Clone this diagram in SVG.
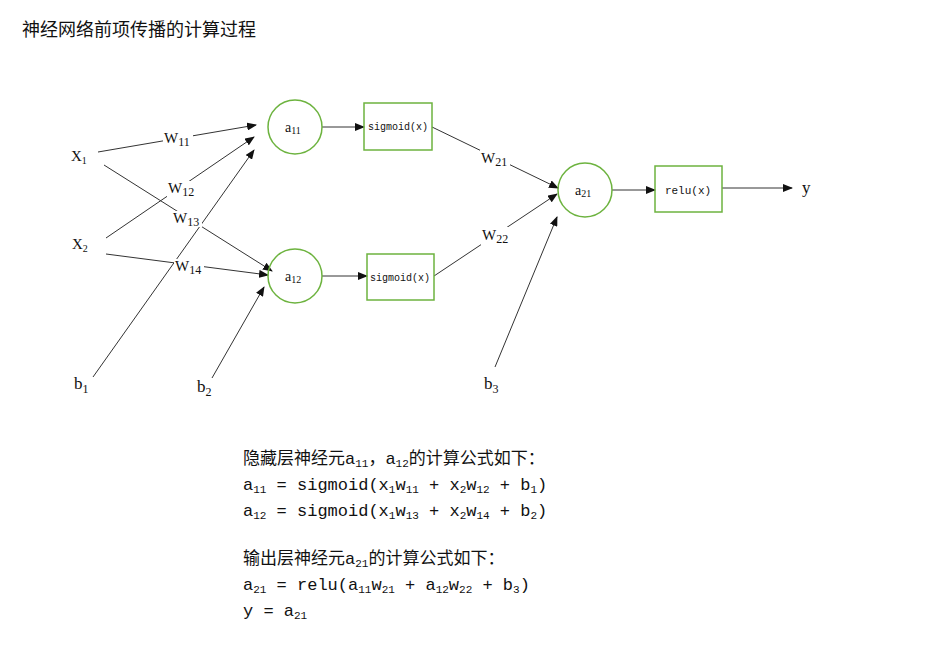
<svg xmlns="http://www.w3.org/2000/svg" width="928" height="652" viewBox="0 0 928 652">
<style>
text{font-family:"Liberation Serif","Noto Serif CJK SC","Noto Sans CJK SC",serif;fill:#111}
.m text{font-family:"Liberation Mono","Noto Sans CJK SC",monospace;font-size:17px}
.n{fill:none;stroke:#6db33f;stroke-width:1.5}
.c line{stroke:#333;stroke-width:1;marker-end:url(#a)}
.l{font-size:15px}
</style>
<defs><marker id="a" markerWidth="10" markerHeight="8" refX="9" refY="4" orient="auto" markerUnits="userSpaceOnUse"><path d="M0,0L10,4L0,8z" fill="#111"/></marker></defs>
<rect width="928" height="652" fill="#fff"/>
<text x="22" y="36" style="font-family:'Noto Sans CJK SC',sans-serif;font-size:18px">神经网络前项传播的计算过程</text>
<g class="c">
<line x1="98" y1="152" x2="256" y2="125"/>
<line x1="106" y1="238" x2="254" y2="137"/>
<line x1="93" y1="377" x2="254" y2="150"/>
<line x1="104" y1="165" x2="272" y2="271"/>
<line x1="106" y1="254" x2="268" y2="275"/>
<line x1="212" y1="378" x2="264" y2="287"/>
<line x1="322" y1="127" x2="364" y2="127"/>
<line x1="322" y1="276" x2="367" y2="276"/>
<line x1="432" y1="127" x2="558" y2="188"/>
<line x1="434" y1="276" x2="557" y2="194"/>
<line x1="495" y1="367" x2="557" y2="217"/>
<line x1="612" y1="190" x2="655" y2="190"/>
<line x1="722" y1="188" x2="792" y2="188"/>
</g>
<g id="x1"><text x="71" y="161" class="l">X<tspan font-size="10" dy="3">1</tspan></text></g>
<g id="x2"><text x="72" y="249" class="l">X<tspan font-size="10" dy="3">2</tspan></text></g>
<g id="b1"><text x="74" y="389" font-size="17">b<tspan font-size="12" dy="4">1</tspan></text></g>
<g id="b2"><text x="197" y="392" font-size="17">b<tspan font-size="12" dy="4">2</tspan></text></g>
<g id="b3"><text x="484" y="389" font-size="17">b<tspan font-size="12" dy="4">3</tspan></text></g>
<g id="wl">
<rect x="163" y="131" width="30" height="16" fill="#fff"/><text x="164" y="143" class="l">W<tspan font-size="12" dy="3">11</tspan></text>
<rect x="167" y="181" width="30" height="16" fill="#fff"/><text x="168" y="193" class="l">W<tspan font-size="12" dy="3">12</tspan></text>
<rect x="172" y="211" width="30" height="16" fill="#fff"/><text x="173" y="223" class="l">W<tspan font-size="12" dy="3">13</tspan></text>
<rect x="174" y="259" width="30" height="16" fill="#fff"/><text x="175" y="271" class="l">W<tspan font-size="12" dy="3">14</tspan></text>
<rect x="480" y="150" width="30" height="18" fill="#fff"/><text x="481" y="163" class="l">W<tspan font-size="12" dy="3">21</tspan></text>
<rect x="481" y="227" width="30" height="18" fill="#fff"/><text x="482" y="240" class="l">W<tspan font-size="12" dy="3">22</tspan></text>
</g>
<g id="a11"><circle cx="295" cy="127" r="27" class="n"/><text x="285" y="132" font-size="14">a<tspan font-size="10" dy="2">11</tspan></text></g>
<g id="a12"><circle cx="295" cy="276" r="27" class="n"/><text x="285" y="281" font-size="14">a<tspan font-size="10" dy="2">12</tspan></text></g>
<g id="a21"><circle cx="585" cy="190" r="27" class="n"/><text x="575" y="195" font-size="14">a<tspan font-size="10" dy="2">21</tspan></text></g>
<g id="s1"><rect x="364" y="103" width="68" height="47" class="n"/><text x="398" y="130" text-anchor="middle" style="font-family:'Liberation Mono',monospace;font-size:10px">sigmoid(x)</text></g>
<g id="s2"><rect x="367" y="254" width="67" height="46" class="n"/><text x="400" y="281" text-anchor="middle" style="font-family:'Liberation Mono',monospace;font-size:10px">sigmoid(x)</text></g>
<g id="r"><rect x="655" y="166" width="67" height="46" class="n"/><text x="688" y="194" text-anchor="middle" style="font-family:'Liberation Mono',monospace;font-size:11px">relu(x)</text></g>
<g id="y"><text x="802" y="193" font-size="17">y</text></g>
<g id="f" class="m">
<text x="243" y="464">隐藏层神经元a<tspan font-size="11" dy="3">11</tspan><tspan dy="-3">，a</tspan><tspan font-size="11" dy="3">12</tspan><tspan dy="-3">的计算公式如下：</tspan></text>
<text x="243" y="490">a<tspan font-size="11" dy="3">11</tspan><tspan dy="-3"> = sigmoid(x</tspan><tspan font-size="11" dy="3">1</tspan><tspan dy="-3">w</tspan><tspan font-size="11" dy="3">11</tspan><tspan dy="-3"> + x</tspan><tspan font-size="11" dy="3">2</tspan><tspan dy="-3">w</tspan><tspan font-size="11" dy="3">12</tspan><tspan dy="-3"> + b</tspan><tspan font-size="11" dy="3">1</tspan><tspan dy="-3">)</tspan></text>
<text x="243" y="516">a<tspan font-size="11" dy="3">12</tspan><tspan dy="-3"> = sigmoid(x</tspan><tspan font-size="11" dy="3">1</tspan><tspan dy="-3">w</tspan><tspan font-size="11" dy="3">13</tspan><tspan dy="-3"> + x</tspan><tspan font-size="11" dy="3">2</tspan><tspan dy="-3">w</tspan><tspan font-size="11" dy="3">14</tspan><tspan dy="-3"> + b</tspan><tspan font-size="11" dy="3">2</tspan><tspan dy="-3">)</tspan></text>
<text x="243" y="564">输出层神经元a<tspan font-size="11" dy="3">21</tspan><tspan dy="-3">的计算公式如下：</tspan></text>
<text x="243" y="590">a<tspan font-size="11" dy="3">21</tspan><tspan dy="-3"> = relu(a</tspan><tspan font-size="11" dy="3">11</tspan><tspan dy="-3">w</tspan><tspan font-size="11" dy="3">21</tspan><tspan dy="-3"> + a</tspan><tspan font-size="11" dy="3">12</tspan><tspan dy="-3">w</tspan><tspan font-size="11" dy="3">22</tspan><tspan dy="-3"> + b</tspan><tspan font-size="11" dy="3">3</tspan><tspan dy="-3">)</tspan></text>
<text x="243" y="616">y = a<tspan font-size="11" dy="3">21</tspan></text>
</g>
</svg>
